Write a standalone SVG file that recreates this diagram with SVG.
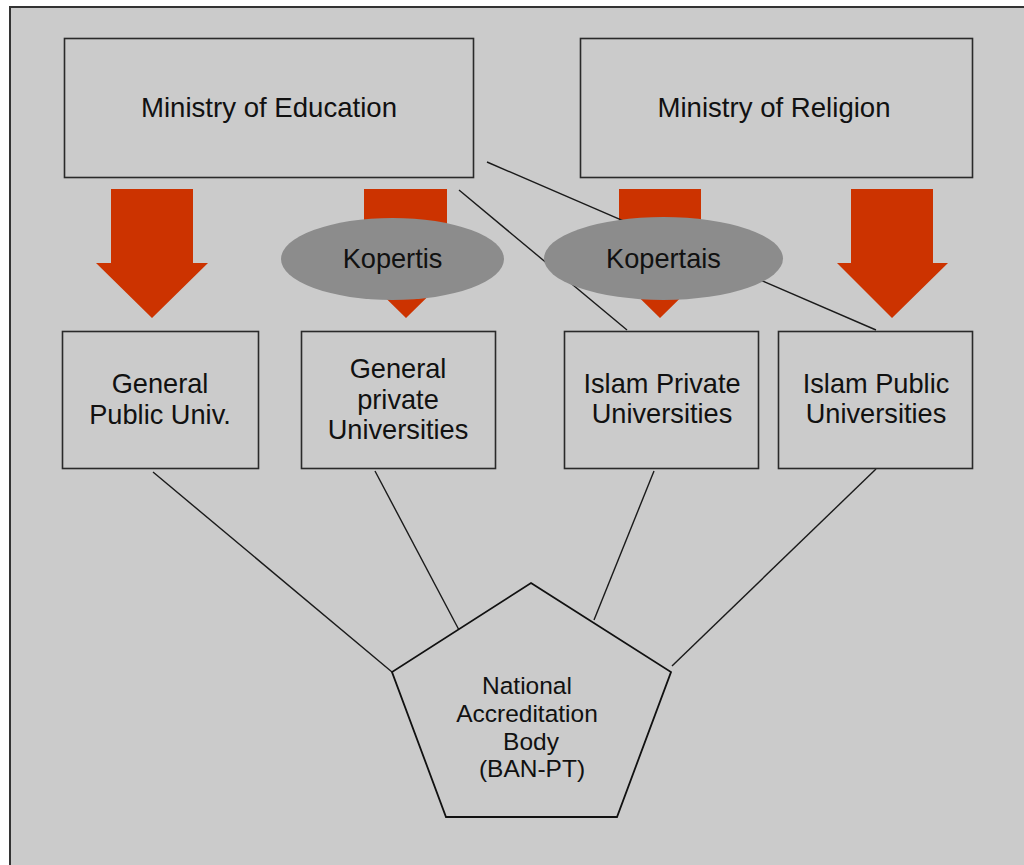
<svg xmlns="http://www.w3.org/2000/svg" width="1024" height="865" viewBox="0 0 1024 865">
<style>
.box{fill:#cbcbcb;stroke:#2a2a2a;stroke-width:1.6}
.arr{fill:#cc3300}
.oval{fill:#8c8c8c}
.ln{stroke:#1a1a1a;stroke-width:1.4;fill:none}
text{font-family:"Liberation Sans",Arial,sans-serif;fill:#111111;text-anchor:middle}
.big{font-size:27.6px}
.mid{font-size:27.2px}
.sm{font-size:24.5px}
</style>
<rect x="0" y="0" width="1024" height="865" fill="#ffffff"/>
<rect x="10" y="7" width="1020" height="870" fill="#cbcbcb" stroke="#333" stroke-width="2"/>

<g id="arrows">
<polygon class="arr" points="111,189 193,189 193,263 208,263 152,318 96,263 111,263"/>
<polygon class="arr" points="364,189 447,189 447,263 462,263 406,318 350,263 364,263"/>
<polygon class="arr" points="619,189 701,189 701,263 716,263 660,318 604,263 619,263"/>
<polygon class="arr" points="851,189 933,189 933,263 948,263 892,318 837,263 851,263"/>
</g>

<g id="connectors">
<line class="ln" x1="487" y1="162" x2="876" y2="330"/>
<line class="ln" x1="459" y1="190" x2="627" y2="330"/>
<line class="ln" x1="153" y1="472" x2="392" y2="672"/>
<line class="ln" x1="375" y1="471" x2="459" y2="630"/>
<line class="ln" x1="654" y1="471" x2="594" y2="620"/>
<line class="ln" x1="876" y1="469" x2="672" y2="666"/>
</g>

<g id="ministry-education">
<rect class="box" x="64.5" y="38.5" width="409" height="139"/>
<text class="big" x="269" y="117">Ministry of Education</text>
</g>
<g id="ministry-religion">
<rect class="box" x="580.5" y="38.5" width="392" height="139"/>
<text class="big" x="774" y="117">Ministry of Religion</text>
</g>

<g id="kopertis">
<ellipse class="oval" cx="392.5" cy="259" rx="111.5" ry="41"/>
<text class="mid" x="392.5" y="268">Kopertis</text>
</g>
<g id="kopertais">
<ellipse class="oval" cx="663.5" cy="258.5" rx="119.5" ry="41.5"/>
<text class="mid" x="663.5" y="268">Kopertais</text>
</g>

<g id="general-public">
<rect class="box" x="62.5" y="331.5" width="196" height="137"/>
<text class="mid" x="160" y="393">General</text>
<text class="mid" x="160" y="424">Public Univ.</text>
</g>
<g id="general-private">
<rect class="box" x="301.5" y="331.5" width="194" height="137"/>
<text class="mid" x="398" y="378">General</text>
<text class="mid" x="398" y="409">private</text>
<text class="mid" x="398" y="439">Universities</text>
</g>
<g id="islam-private">
<rect class="box" x="564.5" y="331.5" width="194" height="137"/>
<text class="mid" x="662" y="393">Islam Private</text>
<text class="mid" x="662" y="423">Universities</text>
</g>
<g id="islam-public">
<rect class="box" x="778.5" y="331.5" width="194" height="137"/>
<text class="mid" x="876" y="393">Islam Public</text>
<text class="mid" x="876" y="423">Universities</text>
</g>

<g id="ban-pt">
<polygon points="531,583 671,672 617,817 446,817 392,672" fill="#cbcbcb" stroke="#111" stroke-width="1.8"/>
<text class="sm" x="527" y="694">National</text>
<text class="sm" x="527" y="722">Accreditation</text>
<text class="sm" x="531" y="750">Body</text>
<text class="sm" x="532" y="777">(BAN-PT)</text>
</g>
</svg>
